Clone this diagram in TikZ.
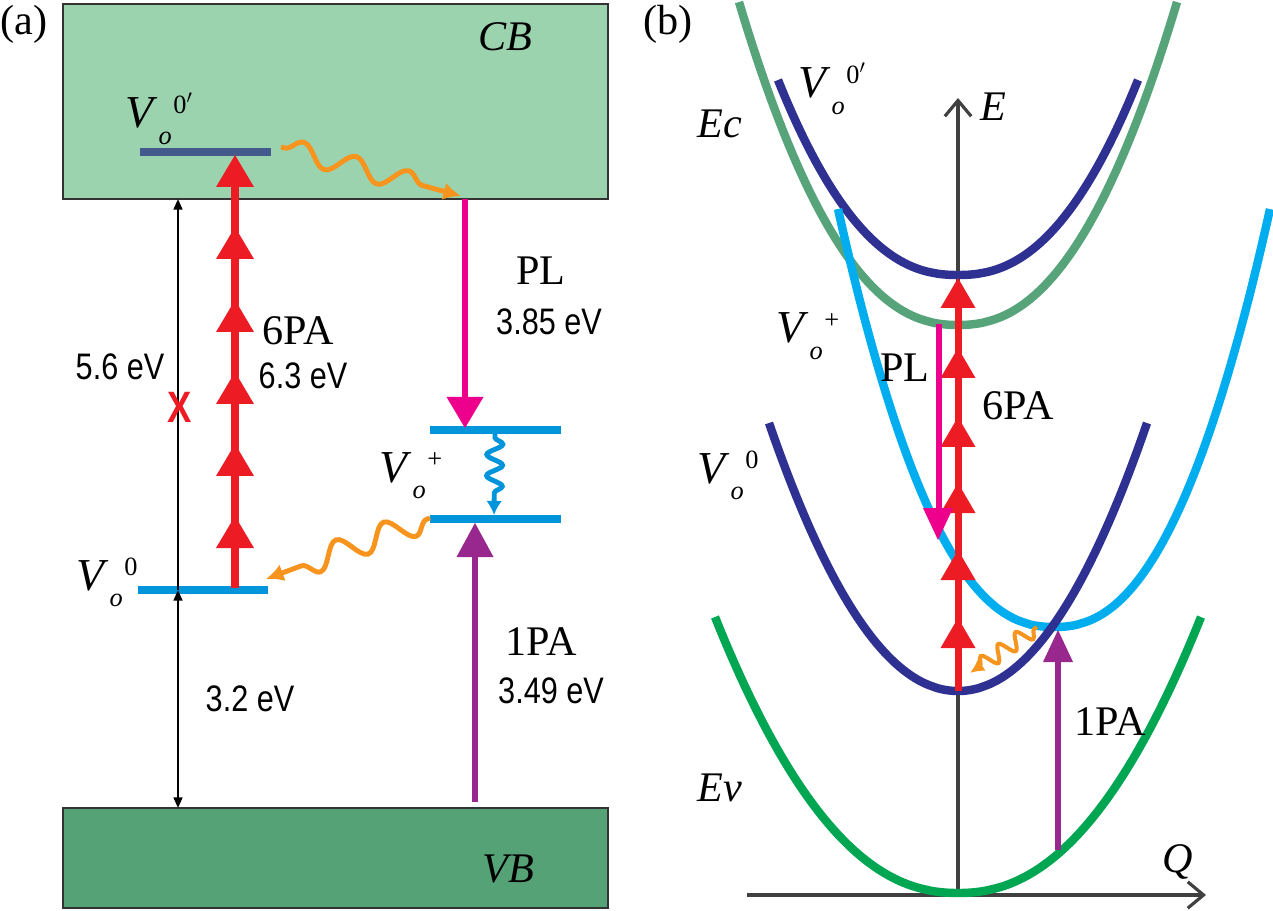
\documentclass[tikz,border=0pt]{standalone}
\usepackage{fontspec}
\setmainfont{Liberation Serif}
\newfontfamily\narrowsans[FakeStretch=0.83]{Liberation Sans}
\usetikzlibrary{arrows.meta,decorations.pathmorphing,calc}
\definecolor{cbfill}{HTML}{9CD3AF}
\definecolor{vbfill}{HTML}{55A276}
\definecolor{boxline}{HTML}{333333}
\definecolor{slate}{HTML}{435A8C}
\definecolor{lvlblue}{HTML}{0095DA}
\definecolor{myred}{HTML}{ED1C24}
\definecolor{mymag}{HTML}{EC008C}
\definecolor{mypurple}{HTML}{98288E}
\definecolor{myorange}{HTML}{F7941D}
\definecolor{ecgreen}{HTML}{58A47A}
\definecolor{evgreen}{HTML}{00A651}
\definecolor{dkblue}{HTML}{2E3192}
\definecolor{mycyan}{HTML}{00AEEF}
\definecolor{axisgray}{HTML}{404040}
\newcommand{\Vlab}[1]{\fontsize{26}{26}\selectfont\textit{V}\kern0.5pt\raisebox{-9.5pt}{\fontsize{15}{15}\selectfont\textit{o}}\kern1pt\raisebox{8.5pt}{\fontsize{15}{15}\selectfont #1}}
\tikzset{
  lbl/.style={font=\fontsize{24}{24}\selectfont, inner sep=0pt},
  ilbl/.style={font=\fontsize{24}{24}\selectfont\itshape, inner sep=0pt},
  ev/.style={font=\narrowsans\fontsize{21}{21}\selectfont, inner sep=0pt},
  vlbl/.style={inner sep=0pt, anchor=base west},
  bandbox/.style={draw=boxline, line width=1.5pt},
  level/.style={line width=4pt},
  dimarrow/.style={line width=1.1pt, black, -{Triangle[length=6pt,width=5pt]}},
  wavy/.style={line width=2.8pt, decorate, decoration={snake, pre length=2pt, post length=8pt}},
  curve/.style={line width=4.8pt},
  axisline/.style={line width=1.8pt, axisgray, -{Straight Barb[length=9pt,width=15pt,line width=1.8pt]}},
}
\begin{document}
\begin{tikzpicture}[x=0.02cm, y=-0.02cm]
\useasboundingbox (0,0) rectangle (1273,911);
% ================= panel (a) =================
\node[lbl] (lblA) at (24,24) {(a)};
\draw[bandbox, fill=cbfill] (63,4) rectangle (608,199);
\node[ilbl] (cb) at (505,37) {CB};
\draw[bandbox, fill=vbfill] (63,808) rectangle (608,908);
\node[ilbl] (vb) at (508,869) {VB};
% levels
\coordinate (L1a) at (140,152); \coordinate (L1b) at (271,152);
\coordinate (L0a) at (138,590); \coordinate (L0b) at (268,590);
\coordinate (Lp1a) at (430,430); \coordinate (Lp1b) at (561,430);
\coordinate (Lp2a) at (430,519); \coordinate (Lp2b) at (561,519);
\draw[level, slate] (L1a) -- (L1b);
\draw[level, lvlblue] (L0a) -- (L0b);
\draw[level, lvlblue] (Lp1a) -- (Lp1b);
\draw[level, lvlblue] (Lp2a) -- (Lp2b);
\node[vlbl] (va1) at (125,128) {\Vlab{0$'$}};
\node[vlbl] (va0) at (76,590) {\Vlab{0}};
\node[vlbl] (vap) at (379,482) {\Vlab{+}};
% black dimension arrows
\coordinate (dTop) at (178,199); \coordinate (dMid) at (178,590); \coordinate (dBot) at (178,808);
\draw[dimarrow] (dMid) -- (dTop);
\draw[dimarrow, {Triangle[length=6pt,width=5pt]}-{Triangle[length=6pt,width=5pt]}] (dMid) -- (dBot);
\node[ev] (e56) at (120,367) {5.6 eV};
\node[ev, text=myred, font=\narrowsans\bfseries\fontsize{25}{25}\selectfont] (xmark) at (180,407) {X};
\node[ev] (e32) at (250,699) {3.2 eV};
% red 6PA arrow
\draw[myred, line width=5pt] (235,588) -- (235,175);
\foreach \t in {155,227,300,372,444,516}
  \fill[myred] (235,\t) -- (216,\t+32) -- (254,\t+32) -- cycle;
\node[lbl] (pa6) at (298,331) {6PA};
\node[ev] (e63) at (303,376) {6.3 eV};
% magenta PL arrow
\draw[mymag, line width=3.7pt] (465,199) -- (465,400);
\fill[mymag] (465,428) -- (446.5,397) -- (483.5,397) -- cycle;
\node[lbl] (pl) at (541,271) {PL};
\node[ev] (e385) at (549,322) {3.85 eV};
% purple 1PA arrow
\draw[mypurple, line width=3.5pt] (475,802) -- (475,555);
\fill[mypurple] (475,523) -- (456.5,557) -- (493.5,557) -- cycle;
\node[lbl] (pa1) at (541,642) {1PA};
\node[ev] (e349) at (551,691) {3.49 eV};
% wavy arrows
\coordinate (wa1s) at (281,147); \coordinate (wa1e) at (461,196);
\draw[wavy, myorange, decoration={segment length=31pt, amplitude=6pt}, -{Latex[length=10pt,width=10pt]}] (wa1s) -- (wa1e);
\coordinate (wa2s) at (430,518); \coordinate (wa2e) at (266,579);
\draw[wavy, myorange, decoration={segment length=29pt, amplitude=7pt}, -{Latex[length=10pt,width=10pt]}] (wa2s) -- (wa2e);
\coordinate (wbs) at (495,434); \coordinate (wbe) at (494,515);
\draw[wavy, lvlblue, decoration={segment length=12pt, amplitude=4.5pt}, -{Latex[length=8pt,width=9pt]}] (wbs) -- (wbe);
% ================= panel (b) =================
\node[lbl] (lblB) at (668,24) {(b)};
\coordinate (O) at (958,895);
\coordinate (Etip) at (958,98);
\coordinate (Qstart) at (747,895);
\coordinate (Qtip) at (1206,895);
\draw[axisline] (O) -- (Etip);
\draw[axisline] (Qstart) -- (Qtip);
\node[ilbl] (E) at (993,107) {E};
\node[ilbl] (Q) at (1178,862) {Q};
% curves
\draw[curve, evgreen] plot[domain=-243:243, samples=100] ({958+\x},{893-276*pow(abs(\x)/243,2.2)});
\draw[curve, ecgreen] plot[domain=-219:219, samples=100] ({958+\x},{325-323*pow(abs(\x)/219,2.27)});
\draw[curve, dkblue] plot[domain=-180:180, samples=100] ({958+\x},{275-195*pow(abs(\x)/180,2.3)});
\draw[curve, mycyan] plot[domain=-216:216, samples=100] ({1054+\x},{627-418*pow(abs(\x)/216,2.32)});
\draw[curve, dkblue] plot[domain=-189:189, samples=100] ({958+\x},{691-268*pow(abs(\x)/189,2.05)});
\node[ilbl] (Ec) at (720,124) {Ec};
\node[ilbl] (Ev) at (720,788) {Ev};
\node[vlbl] (vb1) at (798,98) {\Vlab{0$'$}};
\node[vlbl] (vbp) at (776,343) {\Vlab{+}};
\node[vlbl] (vb0) at (697,483) {\Vlab{0}};
% red 6PA arrow (b)
\draw[myred, line width=4pt] (958,691) -- (958,295);
\foreach \t in {278,348,417,483,550,618}
  \fill[myred] (958,\t) -- (940.5,\t+30) -- (975.5,\t+30) -- cycle;
\node[lbl] (pa6b) at (1018,406) {6PA};
% magenta PL (b)
\draw[mymag, line width=3pt] (939,324) -- (939,510);
\fill[mymag] (938,540) -- (923,508) -- (953,508) -- cycle;
\node[lbl] (plb) at (905,368) {PL};
% purple 1PA (b)
\draw[mypurple, line width=3pt] (1058,850) -- (1058,660);
\fill[mypurple] (1058,630) -- (1043,662) -- (1073,662) -- cycle;
\node[lbl] (pa1b) at (1110,722) {1PA};
% orange wavy (b)
\coordinate (wcs) at (1037,627); \coordinate (wce) at (970,673);
\draw[wavy, myorange, line width=2.3pt, decoration={segment length=12pt, amplitude=4.5pt, post length=6pt}, -{Latex[length=8pt,width=8pt]}] (wcs) -- (wce);
\end{tikzpicture}
\end{document}
